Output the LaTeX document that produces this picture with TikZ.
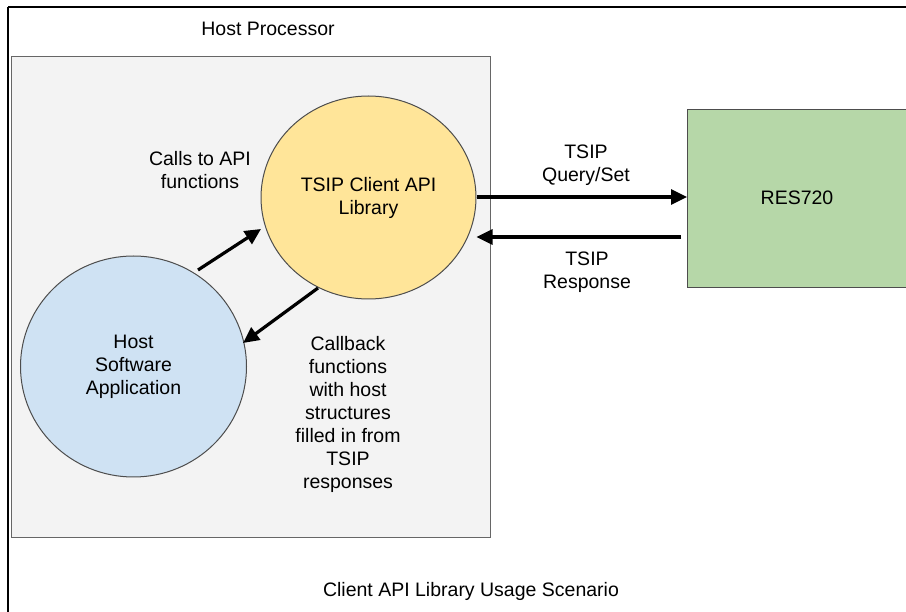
\documentclass[tikz,border=0pt]{standalone}
\usepackage{fontspec}
\setmainfont{Liberation Sans}
\usetikzlibrary{arrows.meta,shapes.geometric}
\definecolor{boxgray}{HTML}{F3F3F3}
\definecolor{boxline}{HTML}{666666}
\definecolor{libyellow}{HTML}{FFE599}
\definecolor{appblue}{HTML}{CFE2F3}
\definecolor{resgreen}{HTML}{B6D7A8}
\definecolor{shapeline}{HTML}{4D4D4D}
\tikzset{
  lbl/.style={font=\fontsize{19.5}{23}\selectfont, align=center, inner sep=0pt},
  blob/.style={ellipse, draw=shapeline, line width=1pt, inner sep=0pt},
  conn/.style={line width=3.2pt, -{Triangle[length=16pt,width=15pt]}},
}
\begin{document}
\begin{tikzpicture}[x=1pt,y=-1pt]
\useasboundingbox (0,0) rectangle (906,612);
\clip (0,0) rectangle (906,612);
% outer frame (only top and left are visible)
\draw[line width=1.3pt] (8,7) -- (920,7);
\draw[line width=1.3pt] (8,7) -- (8,620);
% host processor box
\node[draw=boxline, fill=boxgray, line width=1pt, minimum width=479pt, minimum height=481pt, anchor=north west, inner sep=0pt] (host) at (11,56) {};
\node[lbl] (hosttitle) at (268,29) {Host Processor};
% shapes
\node[blob, fill=libyellow, minimum width=215pt, minimum height=203pt] (lib) at (368.5,197.5) {};
\node[lbl] (libtxt) at (368.5,197.5) {TSIP Client API\\Library};
\node[blob, fill=appblue, minimum width=226pt, minimum height=221pt] (app) at (133.5,366.5) {};
\node[lbl] (apptxt) at (133.5,366.5) {Host\\Software\\Application};
\node[draw=shapeline, fill=resgreen, line width=1pt, minimum width=240pt, minimum height=178pt, anchor=north west, inner sep=0pt] (res) at (687,109) {};
\node[lbl] (restxt) at (797,198) {RES720};
% labels
\node[lbl] (calls) at (200,170) {Calls to API\\functions};
\node[lbl] (callback) at (348,414) {Callback\\functions\\with host\\structures\\filled in from\\TSIP\\responses};
\node[lbl] (query) at (586,165) {TSIP\\Query/Set};
\node[lbl] (resp) at (587,272) {TSIP\\Response};
\node[lbl] (caption) at (471,591) {Client API Library Usage Scenario};
% connectors
\coordinate (qa) at (477,197);
\coordinate (qb) at (687,197);
\coordinate (ra) at (681,237);
\coordinate (rb) at (477,237);
\coordinate (ca) at (198,270);
\coordinate (cb) at (261,229);
\coordinate (ba) at (318,288);
\coordinate (bb) at (243,343);
\draw[conn] (lib.east |- qa) -- (res.west |- qb);
\draw[conn] (ra) -- (lib.east |- rb);
\draw[conn] (ca) -- (cb);
\draw[conn] (ba) -- (bb);
\end{tikzpicture}
\end{document}
